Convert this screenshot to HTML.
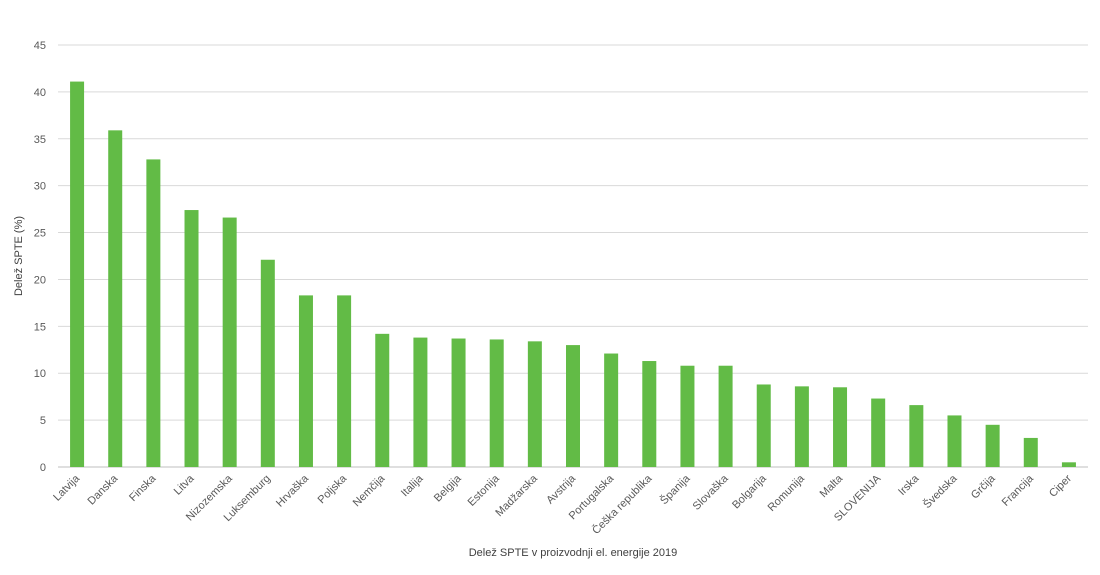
<!DOCTYPE html>
<html><head><meta charset="utf-8"><style>
body{margin:0;background:#fff;}
svg{display:block;font-family:"Liberation Sans",sans-serif;}
</style></head><body>
<svg id="chart" width="1100" height="575" viewBox="0 0 1100 575" xmlns="http://www.w3.org/2000/svg">
<g id="grid"></g>
<g id="yticks"></g>
<g id="bars"></g>
<g id="xlabels"></g>
<text transform="translate(22,256) rotate(-90)" text-anchor="middle" font-size="11" fill="#404040">Delež SPTE (%)</text>
<text x="573" y="556" text-anchor="middle" font-size="11" fill="#404040">Delež SPTE v proizvodnji el. energije 2019</text>
</svg>
<script>
const categories=["Latvija","Danska","Finska","Litva","Nizozemska","Luksemburg","Hrvaška","Poljska","Nemčija","Italija","Belgija","Estonija","Madžarska","Avstrija","Portugalska","Češka republika","Španija","Slovaška","Bolgarija","Romunija","Malta","SLOVENIJA","Irska","Švedska","Grčija","Francija","Ciper"];
const values=[41.1,35.9,32.8,27.4,26.6,22.1,18.3,18.3,14.2,13.8,13.7,13.6,13.4,13.0,12.1,11.3,10.8,10.8,8.8,8.6,8.5,7.3,6.6,5.5,4.5,3.1,0.5];
const yTicks=[0,5,10,15,20,25,30,35,40,45];
const NS="http://www.w3.org/2000/svg";
const L=58,R=1088,Y0=467,Y1=45,YMAX=45;
const y=v=>Y0-(v/YMAX)*(Y0-Y1);
const step=(R-L)/categories.length;
const x=i=>L+step*(i+0.5);
const grid=document.getElementById('grid'),yt=document.getElementById('yticks'),bars=document.getElementById('bars'),xl=document.getElementById('xlabels');
yTicks.forEach(t=>{
 const ln=document.createElementNS(NS,'line');
 
 
 ln.setAttribute('x1',L);ln.setAttribute('x2',R);ln.setAttribute('y1',y(t));ln.setAttribute('y2',y(t));
 ln.setAttribute('stroke',t===0?'#bfbfbf':'#d9d9d9');ln.setAttribute('stroke-width','1');
 grid.appendChild(ln);
 const tx=document.createElementNS(NS,'text');
 
 
 tx.setAttribute('x',46);tx.setAttribute('y',y(t)+4);tx.setAttribute('text-anchor','end');
 tx.setAttribute('font-size','11');tx.setAttribute('fill','#595959');tx.textContent=t;
 yt.appendChild(tx);
});
categories.forEach((c,i)=>{
 const r=document.createElementNS(NS,'rect');
 
 
 r.setAttribute('x',x(i)-7);r.setAttribute('width',14);
 r.setAttribute('y',y(values[i]));r.setAttribute('height',Y0-y(values[i]));
 r.setAttribute('fill','#62bb46');
 bars.appendChild(r);
 const t=document.createElementNS(NS,'text');
 
 
 t.setAttribute('transform','translate('+(x(i)+3)+','+(Y0+12)+') rotate(-45)');
 t.setAttribute('text-anchor','end');t.setAttribute('font-size','11');t.setAttribute('fill','#595959');
 t.textContent=c;xl.appendChild(t);
});
</script>
</body></html>
